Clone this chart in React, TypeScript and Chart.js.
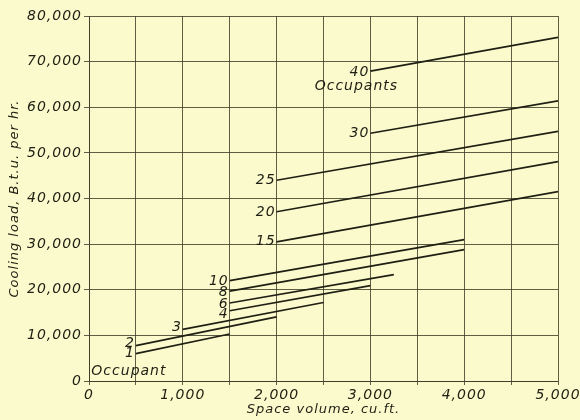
import React, { useEffect, useRef } from "react";
import { Chart, registerables } from "chart.js";

Chart.register(...registerables);

// Number of occupants for each line
const occupants = [1, 2, 3, 4, 6, 8, 10, 15, 20, 25, 30, 40];
// Space volume (cu. ft.) where each line starts and ends
const startVolume = [500, 500, 1000, 1500, 1500, 1500, 1500, 2000, 2000, 2000, 3000, 3000];
const endVolume = [1500, 2000, 2500, 3000, 3250, 4000, 4000, 5000, 5000, 5000, 5000, 5000];
// Cooling load (B.t.u. per hr.) at the start and end of each line
const startLoad = [6000, 7750, 11300, 15400, 17100, 19700, 22000, 30500, 37100, 44000, 54300, 67900];
const endLoad = [10300, 14050, 17200, 20900, 23300, 28800, 31000, 41500, 48100, 54700, 61400, 75300];

// Axis ranges and tick labels
const xTickValues = [0, 1000, 2000, 3000, 4000, 5000];
const xTickLabels = ["0", "1,000", "2,000", "3,000", "4,000", "5,000"];
const yTickValues = [0, 10000, 20000, 30000, 40000, 50000, 60000, 70000, 80000];
const yTickLabels = ["0", "10,000", "20,000", "30,000", "40,000", "50,000", "60,000", "70,000", "80,000"];

const xTitle = "Space volume, cu.ft.";
const yTitle = "Cooling load, B.t.u. per hr.";
const firstNote = "Occupant";
const lastNote = "Occupants";

// label vertical nudges (style only)
const labelDy = [0, -2, -2, 4, 1, 1, 1, 0, 1, 0, 0, 1];

const BG = "#fafacd";
const INK = "#1f1f14";
const GRID = "rgba(55,55,35,0.8)";
const FONT = "'DejaVu Sans', sans-serif";

export default function App() {
  const ref = useRef<HTMLCanvasElement | null>(null);

  useEffect(() => {
    if (!ref.current) return;
    const datasets = occupants.map((n, i) => ({
      label: String(n),
      data: [
        { x: startVolume[i], y: startLoad[i] },
        { x: endVolume[i], y: endLoad[i] },
      ],
      borderColor: INK,
      borderWidth: 1.7,
      pointRadius: 0,
      fill: false,
      tension: 0,
    }));

    const textPlugin = {
      id: "texts",
      beforeDraw(chart: any) {
        const ctx = chart.ctx;
        ctx.save();
        ctx.fillStyle = BG;
        ctx.fillRect(0, 0, chart.width, chart.height);
        ctx.restore();
        (ctx as any).letterSpacing = "1px";
      },
      afterDraw(chart: any) {
        const ctx = chart.ctx;
        const area = chart.chartArea;
        ctx.save();
        ctx.fillStyle = INK;
        ctx.font = `italic 14px ${FONT}`;
        (ctx as any).letterSpacing = "1px";
        ctx.textBaseline = "middle";
        occupants.forEach((n, i) => {
          const meta = chart.getDatasetMeta(i);
          const p = meta.data[0];
          ctx.textAlign = "right";
          ctx.fillText(String(n), p.x - 1, p.y + labelDy[i]);
          if (i === 0) {
            ctx.textAlign = "center";
            ctx.fillText(firstNote, p.x - 7, p.y + 18);
          }
          if (i === occupants.length - 1) {
            ctx.textAlign = "center";
            ctx.fillText(lastNote, p.x - 14, p.y + 15);
          }
        });
        // axis titles
        ctx.font = `italic 13px ${FONT}`;
        (ctx as any).letterSpacing = "1px";
        ctx.textAlign = "center";
        ctx.fillText(xTitle, (area.left + area.right) / 2, 410);
        ctx.translate(15, (area.top + area.bottom) / 2);
        ctx.rotate(-Math.PI / 2);
        ctx.fillText(yTitle, 0, 0);
        ctx.restore();
        (ctx as any).letterSpacing = "0px";
      },
    };

    const chart = new Chart(ref.current, {
      type: "line",
      data: { datasets },
      plugins: [textPlugin],
      options: {
        animation: false,
        responsive: false,
        layout: { padding: { left: 0, top: 16, right: 22, bottom: 0 } },
        plugins: { legend: { display: false }, tooltip: { enabled: false } },
        scales: {
          x: {
            type: "linear",
            min: 0,
            max: 5000,
            ticks: {
              stepSize: 500,
              autoSkip: false,
              maxRotation: 0,
              padding: 2,
              color: INK,
              font: { family: FONT, size: 14, style: "italic" },
              callback: (v: any) => {
                const k = xTickValues.indexOf(Number(v));
                return k >= 0 ? xTickLabels[k] : "";
              },
            },
            grid: { color: GRID, lineWidth: 1, tickLength: 4, tickColor: GRID },
            border: { color: GRID, width: 1 },
            afterFit: (s: any) => {
              s.height = 39;
              s.paddingLeft = 0;
              s.paddingRight = 0;
            },
          },
          y: {
            type: "linear",
            min: 0,
            max: 80000,
            ticks: {
              stepSize: 10000,
              padding: 2,
              color: INK,
              font: { family: FONT, size: 14, style: "italic" },
              callback: (v: any) => {
                const k = yTickValues.indexOf(Number(v));
                return k >= 0 ? yTickLabels[k] : "";
              },
            },
            grid: { color: GRID, lineWidth: 1, tickLength: 5, tickColor: GRID },
            border: { color: GRID, width: 1 },
            afterFit: (s: any) => {
              s.width = 89;
              s.paddingTop = 0;
              s.paddingBottom = 0;
            },
          },
        },
      },
    } as any);

    return () => chart.destroy();
  }, []);

  return (
    <div style={{ position: "fixed", left: 0, top: 0, width: 580, height: 420, background: BG }}>
      <canvas ref={ref} width={580} height={420} style={{ display: "block", width: 580, height: 420 }} />
    </div>
  );
}
